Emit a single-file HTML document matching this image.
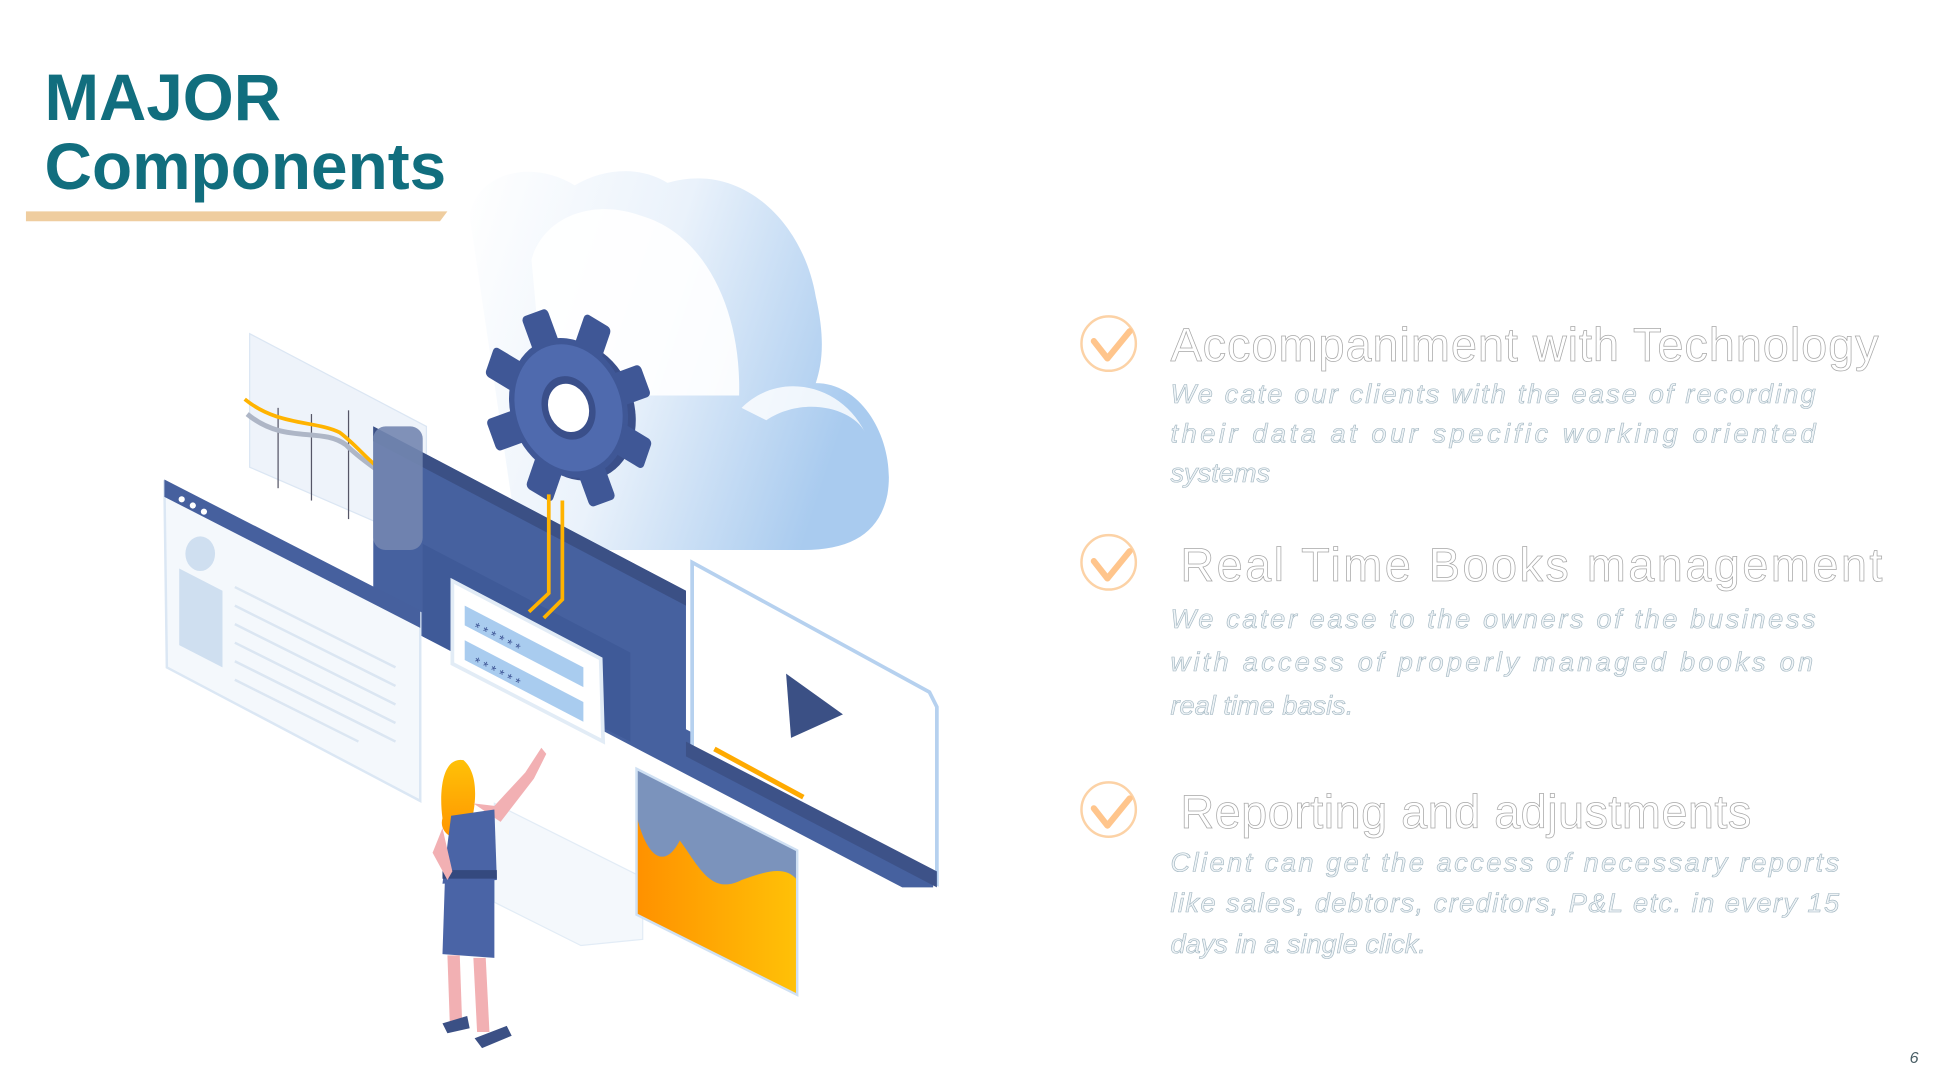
<!DOCTYPE html>
<html><head><meta charset="utf-8"><style>
html,body{margin:0;padding:0;background:#fff;}
svg{display:block;}
</style></head><body>
<svg width="1938" height="1088" viewBox="0 0 1568 880.3" preserveAspectRatio="none" xmlns="http://www.w3.org/2000/svg">
<defs>
<linearGradient id="cl" x1="0" y1="0" x2="1" y2="0.3"><stop offset="0" stop-color="#ffffff"/><stop offset="0.5" stop-color="#eaf2fb"/><stop offset="1" stop-color="#a9cbef"/></linearGradient>
<linearGradient id="og" x1="0" y1="0" x2="1" y2="0"><stop offset="0" stop-color="#ff9100"/><stop offset="1" stop-color="#ffc107"/></linearGradient>
<linearGradient id="hair" x1="0" y1="0" x2="0" y2="1"><stop offset="0" stop-color="#ffc107"/><stop offset="1" stop-color="#ff9500"/></linearGradient>
</defs>
<!-- Title -->
<text x="36" y="97" font-family="Liberation Sans, sans-serif" font-weight="bold" font-size="53" fill="#116e7e">MAJOR</text>
<text x="36" y="153" font-family="Liberation Sans, sans-serif" font-weight="bold" font-size="53" fill="#116e7e" textLength="325" lengthAdjust="spacingAndGlyphs">Components</text>
<polygon points="21,171 362,171 356,179 21,179" fill="#efcd9f"/>

<!-- Cloud -->
<path d="M380,175 C385,140 430,128 465,150 C490,135 520,135 540,148 C600,130 650,180 660,240 C668,275 665,295 660,310 C700,310 725,360 718,400 C712,430 690,445 650,445 L420,445 Z" fill="url(#cl)"/>
<path d="M430,210 C440,175 480,160 520,175 C570,190 600,250 598,320 L440,320 Z" fill="#ffffff" opacity="0.9"/>
<path d="M600,330 C630,300 680,310 700,350 C690,330 650,320 620,340 Z" fill="#ffffff" opacity="0.8"/>

<!-- left chart panel -->
<polygon points="202,270 345,345 345,440 202,378" fill="#eef3fa" stroke="#dbe6f3"/>
<line x1="225" y1="330" x2="225" y2="395" stroke="#556" stroke-width="1"/>
<line x1="252" y1="335" x2="252" y2="405" stroke="#556" stroke-width="1"/>
<line x1="282" y1="332" x2="282" y2="420" stroke="#556" stroke-width="1"/>
<path d="M200,335 C230,360 260,345 280,360 C300,380 320,385 345,420" stroke="#aeb6c6" stroke-width="4" fill="none"/>
<path d="M198,323 C225,345 255,340 275,350 C295,365 305,385 325,385 C335,390 340,405 348,418" stroke="#ffb300" stroke-width="3" fill="none"/>

<!-- main board -->
<polygon points="302,345 555,478 555,590 755,695 755,718 730,718 342,515 302,495" fill="#46619f"/>
<polygon points="302,345 555,478 555,490 302,357" fill="#3b5085"/>
<polygon points="342,440 510,528 510,600 342,515" fill="#3f5a98"/>
<rect x="302" y="345" width="40" height="100" rx="10" fill="#7386b0" opacity="0.9"/>

<!-- video panel -->
<polygon points="560,455 752,560 758,572 758,715 560,610" fill="#ffffff" stroke="#b6d1ef" stroke-width="3"/>
<polygon points="555,600 758,705 758,718 555,612" fill="#3d5288"/>
<polygon points="636,545 682,578 640,597" fill="#3b5085"/>
<line x1="578" y1="606" x2="650" y2="645" stroke="#ffaa00" stroke-width="4"/>
<line x1="650" y1="645" x2="730" y2="688" stroke="#ffffff" stroke-width="3"/>

<!-- browser panel -->
<polygon points="133,390 340,496 340,648 135,540" fill="#f4f8fc" stroke="#dbe7f4" stroke-width="2"/>
<polygon points="133,388 340,494 340,508 133,402" fill="#46609e"/>
<circle cx="147" cy="404" r="2.5" fill="#fff"/><circle cx="156" cy="409" r="2.5" fill="#fff"/><circle cx="165" cy="414" r="2.5" fill="#fff"/>
<ellipse cx="162" cy="448" rx="12" ry="14" fill="#cfdff0"/>
<polygon points="145,460 180,478 180,540 145,522" fill="#cfdff0"/>
<g stroke="#dbe6f2" stroke-width="2">
<line x1="190" y1="475" x2="320" y2="540"/><line x1="190" y1="490" x2="320" y2="555"/><line x1="190" y1="505" x2="320" y2="570"/><line x1="190" y1="520" x2="320" y2="585"/><line x1="190" y1="535" x2="320" y2="600"/><line x1="190" y1="550" x2="290" y2="600"/>
</g>

<!-- gear -->
<g transform="translate(460,330) rotate(-20) scale(0.85,1.05)">
<g fill="#3a4f8a">
<circle r="55" cx="6" cy="4"/>
</g>
<g fill="#3f5796">
<circle r="55"/>
<rect x="-13" y="-78" width="26" height="30" rx="4"/>
<rect x="-13" y="-78" width="26" height="30" rx="4" transform="rotate(45)"/>
<rect x="-13" y="-78" width="26" height="30" rx="4" transform="rotate(90)"/>
<rect x="-13" y="-78" width="26" height="30" rx="4" transform="rotate(135)"/>
<rect x="-13" y="-78" width="26" height="30" rx="4" transform="rotate(180)"/>
<rect x="-13" y="-78" width="26" height="30" rx="4" transform="rotate(225)"/>
<rect x="-13" y="-78" width="26" height="30" rx="4" transform="rotate(270)"/>
<rect x="-13" y="-78" width="26" height="30" rx="4" transform="rotate(315)"/>
</g>
<circle r="50" fill="#4f6aae"/>
<circle r="25" fill="#3a4f8a"/>
<circle r="19" fill="#ffffff"/>
</g>
<path d="M444,400 L444,480 L428,495" stroke="#ffb300" stroke-width="3" fill="none"/>
<path d="M455,405 L455,485 L440,500" stroke="#ffb300" stroke-width="3" fill="none"/>

<!-- login card -->
<polygon points="366,470 486,533 488,600 366,537" fill="#ffffff" stroke="#e2ecf6" stroke-width="3"/>
<polygon points="376,490 472,540 472,556 376,506" fill="#a9ccef"/>
<polygon points="376,518 472,568 472,584 376,534" fill="#a9ccef"/>
<text x="382" y="510" font-family="Liberation Sans, sans-serif" font-size="11" fill="#3f5796" transform="rotate(27 382 510)">* * * * * *</text>
<text x="382" y="538" font-family="Liberation Sans, sans-serif" font-size="11" fill="#3f5796" transform="rotate(27 382 538)">* * * * * *</text>

<!-- lower faint panel -->
<polygon points="400,650 520,710 520,760 470,765 400,730" fill="#f4f8fc" stroke="#e2ecf6"/>

<!-- orange chart -->
<polygon points="515,622 645,688 645,805 515,740" fill="#6d87b5" opacity="0.9"/>
<path d="M515,660 C525,700 540,700 550,680 C565,700 575,725 600,712 C620,705 635,700 645,712 L645,805 L515,740 Z" fill="url(#og)"/>
<polygon points="515,622 645,688 645,805 515,740" fill="none" stroke="#cfe0f3" stroke-width="2"/>

<!-- woman -->
<path d="M375,615 C358,612 355,640 358,662 C355,672 365,682 378,676 C384,660 390,628 375,615 Z" fill="url(#hair)"/>
<path d="M383,650 L400,652 L425,625 L438,605 L442,610 L432,630 L405,665 Z" fill="#f2b0b3"/>
<path d="M365,660 L400,655 L402,712 L358,715 Z" fill="#4a64a6"/>
<rect x="358" y="704" width="44" height="7" fill="#34497e"/>
<polygon points="360,711 400,711 400,775 358,772" fill="#4a64a6"/>
<polygon points="362,773 372,773 374,830 364,830" fill="#f2b0b3"/>
<polygon points="383,775 393,775 396,835 386,835" fill="#f2b0b3"/>
<path d="M358,828 L378,822 L380,832 L362,836 Z" fill="#3b5085"/>
<path d="M384,840 L410,830 L414,838 L390,848 Z" fill="#3b5085"/>
<path d="M358,670 L350,690 L362,712 L366,705 Z" fill="#f2b0b3"/>

<!-- right list -->
<g font-family="Liberation Sans, sans-serif">
<g fill="none" stroke="#fcd2a6" stroke-width="2">
<circle cx="897" cy="278" r="22"/><circle cx="897" cy="455" r="22"/><circle cx="897" cy="655" r="22"/>
</g>
<g fill="none" stroke="#ffc58c" stroke-width="5" stroke-linecap="round" stroke-linejoin="round">
<polyline points="885,276 896,290 914,268"/><polyline points="885,454 896,468 914,446"/><polyline points="885,654 896,668 914,646"/>
</g>
<g fill="#ffffff" stroke="#a8a8a8" stroke-width="0.6" font-size="38">
<text x="947" y="292" textLength="573" lengthAdjust="spacing">Accompaniment with Technology</text>
<text x="955" y="470" textLength="568" lengthAdjust="spacing">Real Time Books management</text>
<text x="955" y="670" textLength="462" lengthAdjust="spacing">Reporting and adjustments</text>
</g>
<g fill="#eef3f6" stroke="#9fb4bf" stroke-width="0.5" font-size="22" font-style="italic">
<text x="947" y="326" textLength="522" lengthAdjust="spacing">We cate our clients with the ease of recording</text>
<text x="947" y="358" textLength="522" lengthAdjust="spacing">their data at our specific working oriented</text>
<text x="947" y="390">systems</text>
<text x="947" y="508" textLength="522" lengthAdjust="spacing">We cater ease to the owners of the business</text>
<text x="947" y="543" textLength="520" lengthAdjust="spacing">with access of properly managed books on</text>
<text x="947" y="578">real time basis.</text>
<text x="947" y="705" textLength="541" lengthAdjust="spacing">Client can get the access of necessary reports</text>
<text x="947" y="738" textLength="541" lengthAdjust="spacing">like sales, debtors, creditors, P&amp;L etc. in every 15</text>
<text x="947" y="771">days in a single click.</text>
</g>
<text x="1545" y="860" font-size="13" font-style="italic" fill="#4a5f66">6</text>
</g>
</svg>
</body></html>
